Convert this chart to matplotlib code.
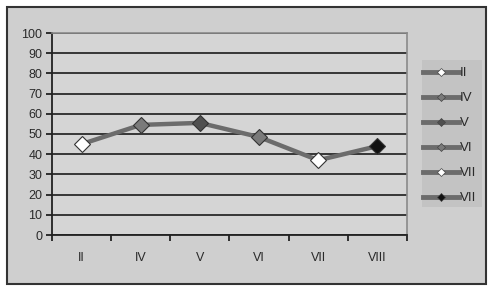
import matplotlib.pyplot as plt
from matplotlib.lines import Line2D
from matplotlib.patches import Rectangle

plt.rcParams['font.family'] = ['Liberation Sans', 'DejaVu Sans']

# data
months = ['II', 'IV', 'V', 'VI', 'VII', 'VIII']
values = [45, 54.5, 55.5, 48.5, 37, 44]
legend_labels = ['II', 'IV', 'V', 'VI', 'VII', 'VII']
marker_colors = ['#ffffff', '#7a7a7a', '#505050', '#7a7a7a', '#ffffff', '#111111']

fig = plt.figure(figsize=(5.01, 2.98), dpi=100)
fig.patch.set_facecolor('#ffffff')

# outer chart frame
frame = Rectangle((7 / 501, 1 - 284 / 298), 479 / 501, 277 / 298,
                  transform=fig.transFigure, facecolor='#cfcfcf',
                  edgecolor='#333333', linewidth=1.5, zorder=-5)
fig.patches.append(frame)

ax = fig.add_axes([52 / 501, 1 - 235 / 298, 355 / 501, 202 / 298])
ax.set_facecolor('#d5d5d5')

x = list(range(len(months)))
ax.plot(x, values, color='#6c6c6c', linewidth=3.2, zorder=3)
for xi, v, c in zip(x, values, marker_colors):
    ax.plot(xi, v, marker='D', markersize=8, markerfacecolor=c,
            markeredgecolor='#333333', markeredgewidth=0.8, zorder=4)

ax.set_xlim(-0.5, 5.5)
ax.set_ylim(0, 100)
ax.set_yticks(range(0, 101, 10))
ax.yaxis.grid(True, color='#2a2a2a', linewidth=1.3)
ax.set_axisbelow(True)

ax.set_xticks(x)
ax.set_xticklabels(months)
ax.set_xticks([i + 0.5 for i in range(-1, 6)], minor=True)
ax.tick_params(axis='x', which='major', length=0, pad=12, labelsize=9,
               colors='#2a2a2a')
ax.tick_params(axis='x', which='minor', length=4, direction='out',
               width=1.3, color='#222222')
ax.tick_params(axis='y', length=4, width=1.3, labelsize=9, pad=3,
               colors='#222222', labelcolor='#2a2a2a')

for side in ['top', 'right']:
    ax.spines[side].set_color('#8a8a8a')
    ax.spines[side].set_linewidth(1.2)
for side in ['left', 'bottom']:
    ax.spines[side].set_color('#222222')
    ax.spines[side].set_linewidth(1.3)

# legend box
fig.patches.append(Rectangle((422 / 501, 1 - 207 / 298), 60 / 501, 147 / 298,
                             transform=fig.transFigure, facecolor='#c3c3c3',
                             edgecolor='none', zorder=-4))
handles = [Line2D([], [], color='#6c6c6c', linewidth=3.5, marker='D',
                  markersize=4.5, markerfacecolor=c, markeredgecolor='#444444',
                  markeredgewidth=0.5) for c in marker_colors]
leg = fig.legend(handles, legend_labels, loc='upper left',
                 bbox_to_anchor=(423 / 501, 1 - 67 / 298),
                 frameon=False, fontsize=9.5, handlelength=2.7,
                 handletextpad=0.1, labelspacing=0.97, borderpad=0,
                 borderaxespad=0)
for t in leg.get_texts():
    t.set_color('#2a2a2a')

fig.savefig('out.png', dpi=100)
